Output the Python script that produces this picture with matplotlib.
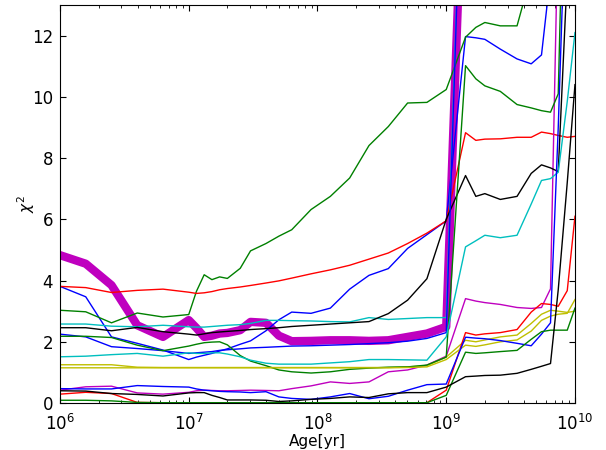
import numpy as np
import matplotlib
matplotlib.use('Agg')
import matplotlib.pyplot as plt

# model age grid (log10 of age in yr)
log_age = [6.0, 6.2, 6.4, 6.6, 6.8,
           7.0, 7.06, 7.12, 7.18, 7.24, 7.30, 7.40, 7.48, 7.60, 7.70,
           7.80, 7.95, 8.10, 8.25, 8.40, 8.55, 8.70, 8.85, 9.00,
           9.15, 9.23, 9.30, 9.42, 9.55, 9.66, 9.74, 9.81, 9.87, 9.94, 10.0]

# chi^2 of each template fit vs age
chi_best = [4.83, 4.55, 3.85, 2.54, 2.16,
            2.71, 2.45, 2.16, 2.2, 2.27, 2.29, 2.38, 2.65, 2.62, 2.2,
            2.02, 2.03, 2.05, 2.05, 2.03, 2.05, 2.16, 2.27, 2.49,
            20.0, 24.0, 26.0, 28.0, 30.0, 32.0, 34.0, 36.0, 38.0, 40.0, 42.0]

chi_b1 = [3.81, 3.47, 2.16, 1.95, 1.73,
          1.42, 1.5, 1.56, 1.62, 1.7, 1.77, 1.92, 2.03, 2.36, 2.72,
          2.97, 2.93, 3.1, 3.72, 4.17, 4.39, 5.05, 5.5, 5.95,
          11.97, 11.93, 11.88, 11.56, 11.24, 11.08, 11.37, 14.0, 20.0, 26.0, 32.0]

chi_g1 = [3.03, 2.98, 2.62, 2.94, 2.81,
          2.89, 3.65, 4.19, 4.03, 4.12, 4.07, 4.4, 4.97, 5.21, 5.45,
          5.66, 6.32, 6.75, 7.35, 8.41, 9.03, 9.8, 9.82, 10.24,
          11.95, 12.27, 12.43, 12.32, 12.32, 14.0, 20.0, 25.0, 30.0, 35.0, 40.0]

chi_r1 = [3.81, 3.77, 3.61, 3.68, 3.72,
          3.62, 3.58, 3.6, 3.64, 3.7, 3.74, 3.79, 3.84, 3.92, 3.99,
          4.08, 4.22, 4.35, 4.5, 4.7, 4.9, 5.21, 5.55, 5.95,
          8.83, 8.58, 8.62, 8.63, 8.68, 8.68, 8.85, 8.8, 8.74, 8.68, 8.71]

chi_c1 = [2.58, 2.58, 2.51, 2.49, 2.54,
          2.49, 2.48, 2.48, 2.5, 2.52, 2.54, 2.56, 2.6, 2.7, 2.7,
          2.69, 2.68, 2.66, 2.65, 2.79, 2.73, 2.76, 2.79, 2.79,
          22.0, 25.0, 27.0, 29.0, 31.0, 33.0, 35.0, 37.0, 39.0, 41.0, 43.0]

chi_m1 = [0.42, 0.53, 0.55, 0.33, 0.29,
          0.35, 0.4, 0.42, 0.41, 0.4, 0.4, 0.41, 0.42, 0.41, 0.4,
          0.47, 0.56, 0.69, 0.64, 0.69, 1.02, 1.08, 1.24, 1.53,
          3.41, 3.33, 3.28, 3.22, 3.12, 3.09, 3.12, 3.73, 16.0, 28.0, 40.0]

chi_y1 = [1.25, 1.25, 1.25, 1.17, 1.16,
          1.16, 1.16, 1.16, 1.16, 1.16, 1.16, 1.16, 1.16, 1.16, 1.16,
          1.16, 1.16, 1.16, 1.16, 1.16, 1.16, 1.18, 1.22, 1.5,
          2.05, 2.0, 2.06, 2.16, 2.22, 2.6, 2.9, 3.03, 3.0, 2.96, 3.0]

chi_k1 = [2.46, 2.46, 2.36, 2.47, 2.33,
          2.25, 2.22, 2.26, 2.3, 2.32, 2.34, 2.37, 2.4, 2.43, 2.46,
          2.5, 2.54, 2.58, 2.62, 2.66, 2.92, 3.36, 4.06, 6.0,
          7.43, 6.75, 6.84, 6.65, 6.75, 7.5, 7.78, 7.68, 7.56, 14.0, 20.0]

chi_b2 = [2.25, 2.16, 1.84, 1.78, 1.71,
          1.62, 1.64, 1.66, 1.68, 1.72, 1.74, 1.77, 1.8, 1.82, 1.84,
          1.86, 1.87, 1.89, 1.91, 1.94, 1.97, 2.02, 2.11, 2.3,
          22.0, 25.0, 27.0, 29.0, 31.0, 33.0, 35.0, 37.0, 39.0, 41.0, 43.0]

chi_g2 = [2.18, 2.18, 2.14, 1.89, 1.71,
          1.86, 1.92, 1.97, 1.99, 2.0, 1.9, 1.55, 1.37, 1.22, 1.08,
          1.02, 0.98, 1.02, 1.1, 1.14, 1.17, 1.18, 1.24, 1.5,
          11.02, 10.59, 10.36, 10.18, 9.75, 9.64, 9.55, 9.5, 10.1, 22.0, 35.0]

chi_r2 = [0.29, 0.35, 0.31, 0.02, 0.01,
          0.01, 0.01, 0.01, 0.01, 0.01, 0.01, 0.01, 0.01, 0.01, 0.01,
          0.01, 0.01, 0.01, 0.01, 0.01, 0.01, 0.01, 0.01, 0.42,
          2.3, 2.22, 2.26, 2.3, 2.4, 2.97, 3.25, 3.22, 3.16, 3.67, 6.1]

chi_c2 = [1.51, 1.53, 1.58, 1.62, 1.53,
          1.64, 1.62, 1.62, 1.64, 1.64, 1.6, 1.51, 1.4, 1.3, 1.27,
          1.27, 1.27, 1.31, 1.35, 1.42, 1.42, 1.41, 1.4, 2.16,
          5.1, 5.3, 5.48, 5.4, 5.48, 6.5, 7.27, 7.33, 7.54, 9.85, 12.1]

chi_y2 = [1.15, 1.15, 1.15, 1.15, 1.15,
          1.15, 1.15, 1.15, 1.15, 1.15, 1.15, 1.15, 1.15, 1.15, 1.15,
          1.15, 1.15, 1.15, 1.15, 1.15, 1.15, 1.16, 1.18, 1.42,
          1.89, 1.85, 1.9, 2.0, 2.06, 2.35, 2.7, 2.84, 2.9, 2.93, 3.38]

chi_b3 = [0.47, 0.46, 0.46, 0.57, 0.54,
          0.52, 0.46, 0.42, 0.4, 0.38, 0.37, 0.36, 0.34, 0.37, 0.2,
          0.15, 0.12, 0.2, 0.31, 0.14, 0.22, 0.42, 0.6, 0.62,
          2.15, 2.12, 2.1, 2.04, 1.95, 1.87, 2.25, 2.62, 9.0, 18.0, 28.0]

chi_g3 = [0.09, 0.09, 0.07, 0.02, 0.01,
          0.01, 0.01, 0.01, 0.01, 0.01, 0.01, 0.01, 0.01, 0.01, 0.01,
          0.01, 0.01, 0.01, 0.01, 0.01, 0.01, 0.01, 0.01, 0.25,
          1.66, 1.62, 1.64, 1.68, 1.72, 2.08, 2.33, 2.38, 2.38, 2.38, 3.1]

chi_k2 = [0.4, 0.39, 0.31, 0.28, 0.23,
          0.33, 0.34, 0.34, 0.25, 0.18, 0.1, 0.1, 0.1, 0.09, 0.05,
          0.07, 0.12, 0.15, 0.2, 0.18, 0.3, 0.34, 0.34, 0.52,
          0.86, 0.88, 0.9, 0.91, 0.97, 1.1, 1.2, 1.29, 3.7, 7.2, 10.4]

age = 10 ** np.array(log_age)

fig = plt.figure(figsize=(6.06, 4.5), dpi=100)
ax = fig.add_axes([0.099, 0.1044, 0.8498, 0.8844])

# best fit drawn fat underneath the rest
ax.plot(age, chi_best, color='m', lw=6, solid_joinstyle='round')

thin = [(chi_b1, 'b'), (chi_g1, 'g'), (chi_r1, 'r'), (chi_c1, 'c'),
        (chi_m1, 'm'), (chi_y1, 'y'), (chi_k1, 'k'),
        (chi_b2, 'b'), (chi_g2, 'g'), (chi_r2, 'r'), (chi_c2, 'c'),
        (chi_y2, 'y'), (chi_b3, 'b'), (chi_g3, 'g'), (chi_k2, 'k')]
for vals, col in thin:
    ax.plot(age, vals, color=col, lw=1.0)

ax.set_xscale('log')
ax.set_xlim(1e6, 1e10)
ax.set_ylim(0, 13)
ax.set_yticks([0, 2, 4, 6, 8, 10, 12])

ax.tick_params(which='both', direction='in', top=True, right=True, labelsize=12)
ax.tick_params(which='major', length=4)
ax.tick_params(which='minor', length=2)
ax.tick_params(axis='x', which='major', pad=8)
ax.tick_params(axis='y', which='major', pad=5)

ax.set_xlabel('Age[yr]', fontsize=11, labelpad=0)
ax.set_ylabel(r'$\chi^2$', fontsize=11, labelpad=-4)

fig.savefig('out.png', dpi=100)
